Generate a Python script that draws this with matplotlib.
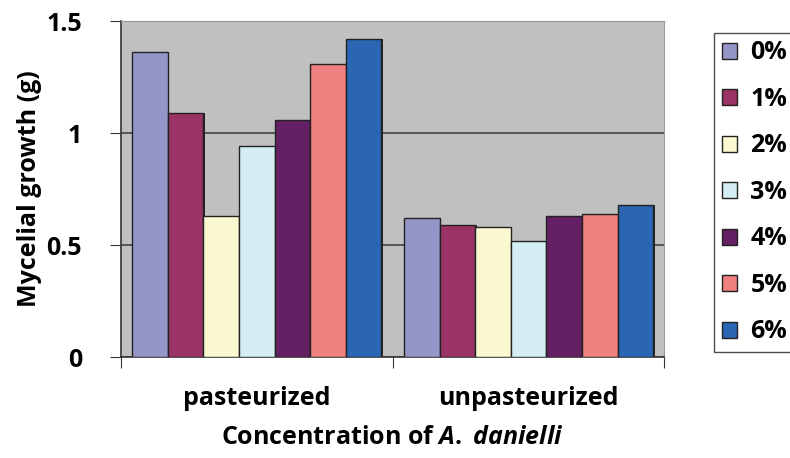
import numpy as np
import matplotlib.pyplot as plt

plt.rcParams['font.family'] = ['Open Sans', 'DejaVu Sans']
plt.rcParams['font.weight'] = 'bold'
plt.rcParams['mathtext.fontset'] = 'custom'
plt.rcParams['mathtext.it'] = 'Open Sans:italic:bold'
plt.rcParams['mathtext.rm'] = 'Open Sans:bold'

groups = ['pasteurized', 'unpasteurized']
levels = ['0%', '1%', '2%', '3%', '4%', '5%', '6%']
pasteurized = [1.36, 1.09, 0.63, 0.94, 1.06, 1.31, 1.42]
unpasteurized = [0.62, 0.59, 0.58, 0.52, 0.63, 0.64, 0.68]
colors = ['#9595c9', '#9a3366', '#faf8d0', '#d4eef4', '#632063', '#f08080', '#2a66b1']

FS = 18

fig = plt.figure(figsize=(7.9, 4.58), dpi=100)
ax = fig.add_axes([0.153, 0.2205, 0.688, 0.7335])
ax.set_facecolor('#c0c0c0')

x = np.arange(len(groups))
w = 0.131
handles = []
for i, lv in enumerate(levels):
    vals = [pasteurized[i], unpasteurized[i]]
    pos = x + (i - 3) * w
    # drop shadow like the original excel bars
    ax.bar(pos + 0.006, vals, w, color='#222222', zorder=2)
    b = ax.bar(pos, vals, w, color=colors[i], edgecolor='#222222',
               linewidth=1.0, zorder=3, label=lv)
    handles.append(b)

ax.set_xlim(-0.5, 1.5)
ax.set_ylim(0, 1.5)
ax.set_yticks([0, 0.5, 1, 1.5])
ax.set_yticklabels(['0', '0.5', '1', '1.5'], fontsize=FS, fontweight='bold')
ax.yaxis.grid(True, color='#444444', linewidth=1.2, zorder=1)
ax.set_axisbelow(True)

ax.set_xticks([-0.5, 0.5, 1.5])
ax.set_xticklabels([])
ax.set_xticks(x, minor=True)
ax.set_xticklabels(groups, minor=True, fontsize=FS, fontweight='bold')
ax.tick_params(axis='x', which='minor', length=0, pad=21)
ax.tick_params(axis='x', which='major', length=8, color='#333333')
ax.tick_params(axis='y', length=8, color='#333333', pad=20)

for s in ['top', 'right']:
    ax.spines[s].set_color('#999999')
    ax.spines[s].set_linewidth(0.8)
for s in ['left', 'bottom']:
    ax.spines[s].set_color('#333333')
    ax.spines[s].set_linewidth(1.2)

ax.set_ylabel('Mycelial growth (g)', fontsize=FS, fontweight='bold', labelpad=3)
ax.set_xlabel('Concentration of $\\mathit{A.}$ $\\mathit{danielli}$', fontsize=FS,
              fontweight='bold', labelpad=10)

leg = fig.legend(handles=handles, labels=levels, loc='upper left',
                 bbox_to_anchor=(0.904, 0.928), frameon=True, fancybox=False,
                 edgecolor='#222222', prop={'weight': 'bold', 'size': FS},
                 handlelength=0.6, handleheight=0.6, handletextpad=0.55,
                 labelspacing=0.86, borderpad=0.3, borderaxespad=0)
leg.get_frame().set_linewidth(1.0)

fig.savefig('out.png', dpi=100)
